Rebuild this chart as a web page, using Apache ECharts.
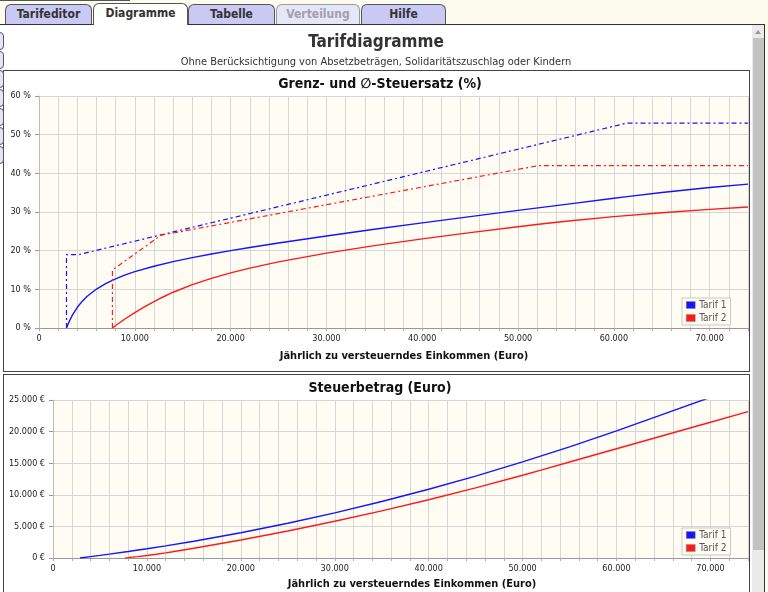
<!DOCTYPE html>
<html>
<head>
<meta charset="UTF-8">
<title>Tarifdiagramme</title>
<script src="https://cdn.jsdelivr.net/npm/echarts@6/dist/echarts.min.js"></script>
<style>
    html, body {
        margin: 0;
        padding: 0;
        width: 768px;
        height: 592px;
        overflow: hidden;
        background: #fcfcef;
        font-family: "DejaVu Sans Condensed", "DejaVu Sans", sans-serif;
    }
    #topline { position: absolute; left: 0; top: 0; width: 130px; height: 1px; background: #555; }
    .tab {
        position: absolute;
        top: 4px;
        height: 19px;
        background: #c9c9f4;
        border: 1px solid #555;
        border-bottom: none;
        border-radius: 6px 6px 0 0;
        font-weight: bold;
        font-size: 12px;
        line-height: 19px;
        text-align: center;
        color: #333;
    }
    .tab.sel { background: #fff; top: 3px; height: 21px; z-index: 3; }
    .tab.off { background: #e6e6f9; color: #a0a0a8; border-color: #999; }
    #content {
        position: absolute;
        left: 0; top: 24px;
        width: 765px; height: 580px;
        background: #fff;
        border-top: 1px solid #333;
        border-right: 1px solid #333;
        box-sizing: border-box;
    }
    .side {
        position: absolute;
        left: -7px;
        width: 9px;
        height: 16px;
        border: 1px solid #556;
        border-radius: 4px;
        background: #e4e4f6;
        z-index: 4;
    }
    .panel {
        position: absolute;
        left: 3px;
        width: 745px;
        border: 1px solid #444;
        background: #fff;
    }
    #sbar { position: absolute; left: 752px; top: 25px; width: 12px; height: 567px; background: #eaeaea; z-index: 5; }
    #sthumb { position: absolute; left: 1px; top: 13px; width: 11px; height: 512px; background: #c2c2c2; }
    #sarrow { position: absolute; left: 3px; top: 5px; width: 0; height: 0;
        border-left: 3px solid transparent; border-right: 3px solid transparent; border-bottom: 4px solid #999; }
    #chart { position: absolute; left: 0; top: 0; width: 768px; height: 592px; z-index: 2; }
</style>
</head>
<body>
<div id="topline"></div>
<div class="tab" style="left:5px;width:85px;">Tarifeditor</div>
<div class="tab sel" style="left:93px;width:93px;">Diagramme</div>
<div class="tab" style="left:188px;width:85px;">Tabelle</div>
<div class="tab off" style="left:276px;width:82px;">Verteilung</div>
<div class="tab" style="left:361px;width:83px;">Hilfe</div>
<div id="content">
    <div class="panel" style="top:45px;height:300px;"></div>
    <div class="panel" style="top:349px;height:260px;"></div>
    <div class="side" style="top:7px"></div>
    <div class="side" style="top:26px"></div>
    <div class="side" style="top:45px"></div>
    <div class="side" style="top:64px"></div>
    <div class="side" style="top:83px"></div>
    <div class="side" style="top:102px"></div>
    <div class="side" style="top:121px"></div>
</div>
<div id="sbar"><div id="sarrow"></div><div id="sthumb"></div></div>
<div id="chart"></div>
<script type="text/javascript">
    // Grenzsteuersatz (%), Stützpunkte [Einkommen, Satz]
    var tarif1Grenz = [[2871, 0], [2871, 19], [4169, 19], [61377, 53], [74000, 53]];
    var tarif2Grenz = [[7664, 0], [7664, 15], [12739, 24], [52151, 42], [74000, 42]];
    // Durchschnittssteuersatz (%)
    var tarif1Schnitt = [[2871, 0], [3000, 0.81], [3200, 1.95], [3500, 3.41], [4000, 5.36], [4500, 6.88],
        [5000, 8.13], [6000, 10.08], [7000, 11.55], [8000, 12.73], [9000, 13.72], [10000, 14.56],
        [12000, 15.98], [14000, 17.17], [16000, 18.2], [18000, 19.14], [20000, 20.01], [22000, 20.83],
        [25000, 21.99], [30000, 23.81], [35000, 25.53], [40000, 27.19], [45000, 28.81], [50000, 30.41],
        [55000, 31.98], [60000, 33.54], [61377, 33.97], [65000, 35.03], [70000, 36.32], [74000, 37.22]];
    var tarif2Schnitt = [[7664, 0], [8000, 0.64], [9000, 2.4], [10000, 3.99], [11000, 5.44], [12000, 6.8],
        [12739, 7.76], [14000, 9.25], [16000, 11.22], [18000, 12.85], [20000, 14.25], [22000, 15.48],
        [25000, 17.09], [30000, 19.36], [35000, 21.31], [40000, 23.06], [45000, 24.67], [50000, 26.19],
        [52151, 26.82], [55000, 27.61], [60000, 28.81], [65000, 29.82], [70000, 30.69], [74000, 31.31]];
    // Steuerbetrag (Euro)
    var tarif1Steuer = [[2871, 0], [3000, 24], [4000, 214], [5000, 407], [6000, 605], [8000, 1019],
        [10000, 1456], [12000, 1918], [15000, 2655], [20000, 4002], [25000, 5497], [30000, 7142],
        [35000, 8934], [40000, 10876], [45000, 12965], [50000, 15204], [55000, 17591], [60000, 20126],
        [65000, 22771], [70000, 25421]];
    var tarif2Steuer = [[7664, 0], [8000, 51], [9000, 216], [10000, 399], [11000, 599], [12000, 817],
        [12739, 989], [15000, 1543], [20000, 2850], [25000, 4272], [30000, 5808], [35000, 7458],
        [40000, 9224], [45000, 11102], [50000, 13096], [52151, 13989], [55000, 15186], [60000, 17286],
        [65000, 19386], [70000, 21486], [74000, 23166]];
    var tarifNamen = ['Tarif 1', 'Tarif 2'];

    var FONT = '"DejaVu Sans Condensed", "DejaVu Sans", sans-serif';
    var BLAU = '#1414ff', ROT = '#ff1a1a';
    var DASH = [5, 3, 2, 3];

    function tausend(v) {
        return String(v).replace(/\B(?=(\d{3})+(?!\d))/g, '.');
    }

    function xAchse(gridIndex) {
        return {
            type: 'value', gridIndex: gridIndex, min: 0, max: 74000, interval: 2000,
            axisLine: { lineStyle: { color: '#999' } },
            axisTick: { length: 3, lineStyle: { color: '#aaa' } },
            splitLine: { show: true, lineStyle: { color: '#d6d6d6', width: 1 } },
            axisLabel: {
                margin: 6, fontSize: 9, fontFamily: FONT, color: '#222',
                formatter: function (v) { return v % 10000 === 0 ? tausend(v) : ''; }
            }
        };
    }

    function text(x, y, t, font, color) {
        return { type: 'text', x: x, y: y, z: 10,
            style: { text: t, font: font, fill: color || '#222', align: 'center', verticalAlign: 'middle' } };
    }

    function legende(top) {
        return {
            data: tarifNamen, left: 682, top: top, orient: 'vertical', icon: 'rect',
            itemWidth: 9, itemHeight: 7, itemGap: 3, padding: [2, 4, 2, 4],
            borderColor: '#c8c8c8', borderWidth: 1, backgroundColor: '#fffcf3',
            selectedMode: false,
            itemStyle: { borderColor: '#888', borderWidth: 0.5, borderType: 'solid' },
            textStyle: { fontSize: 10, fontFamily: FONT, color: '#555', padding: [0, 0, 0, -1] }
        };
    }

    function linie(name, data, color, xi, gestrichelt) {
        return {
            name: name, type: 'line', xAxisIndex: xi, yAxisIndex: xi, data: data,
            showSymbol: false, symbol: 'none', smooth: false,
            lineStyle: { color: color, width: gestrichelt ? 1.2 : 1.4, type: gestrichelt ? DASH : 'solid' },
            itemStyle: { color: color },
            animation: false
        };
    }

    var myChart = echarts.init(document.getElementById('chart'), null, { renderer: 'canvas' });
    var option = {
        animation: false,
        textStyle: { fontFamily: FONT },
        grid: [
            { left: 39, top: 96, width: 709, height: 232, show: true, backgroundColor: '#fffcf3', borderWidth: 0 },
            { left: 53, top: 400, width: 695, height: 158, show: true, backgroundColor: '#fffcf3', borderWidth: 0 }
        ],
        xAxis: [xAchse(0), xAchse(1)],
        yAxis: [
            {
                type: 'value', gridIndex: 0, min: 0, max: 60, interval: 10,
                axisLine: { show: true, lineStyle: { color: '#bbb' } },
                axisTick: { show: true, length: 4, lineStyle: { color: '#999' } },
                splitLine: { lineStyle: { color: '#d6d6d6' } },
                axisLabel: { margin: 8, fontSize: 9, fontFamily: FONT, color: '#222',
                    formatter: function (v) { return v + ' %'; } }
            },
            {
                type: 'value', gridIndex: 1, min: 0, max: 25000, interval: 5000,
                axisLine: { show: true, lineStyle: { color: '#bbb' } },
                axisTick: { show: true, length: 4, lineStyle: { color: '#999' } },
                splitLine: { lineStyle: { color: '#d6d6d6' } },
                axisLabel: { margin: 8, fontSize: 9, fontFamily: FONT, color: '#222',
                    formatter: function (v) { return tausend(v) + ' €'; } }
            }
        ],
        legend: [legende(298), legende(528)],
        graphic: [
            text(376, 43, 'Tarifdiagramme', 'bold 17px ' + FONT, '#333'),
            text(376, 62, 'Ohne Berücksichtigung von Absetzbeträgen, Solidaritätszuschlag oder Kindern', '11px ' + FONT, '#333'),
            text(380, 84, 'Grenz- und \u2205-Steuersatz (%)', 'bold 14px ' + FONT, '#111'),
            text(404, 356, 'Jährlich zu versteuerndes Einkommen (Euro)', 'bold 11px ' + FONT, '#111'),
            text(380, 388, 'Steuerbetrag (Euro)', 'bold 14px ' + FONT, '#111'),
            text(412, 584, 'Jährlich zu versteuerndes Einkommen (Euro)', 'bold 11px ' + FONT, '#111')
        ],
        series: [
            linie('Tarif 1', tarif1Schnitt, BLAU, 0, false),
            linie('Tarif 2', tarif2Schnitt, ROT, 0, false),
            linie('Tarif 1', tarif1Grenz, BLAU, 0, true),
            linie('Tarif 2', tarif2Grenz, ROT, 0, true),
            linie('Tarif 1', tarif1Steuer, BLAU, 1, false),
            linie('Tarif 2', tarif2Steuer, ROT, 1, false)
        ]
    };
    myChart.setOption(option);
</script>
</body>
</html>
